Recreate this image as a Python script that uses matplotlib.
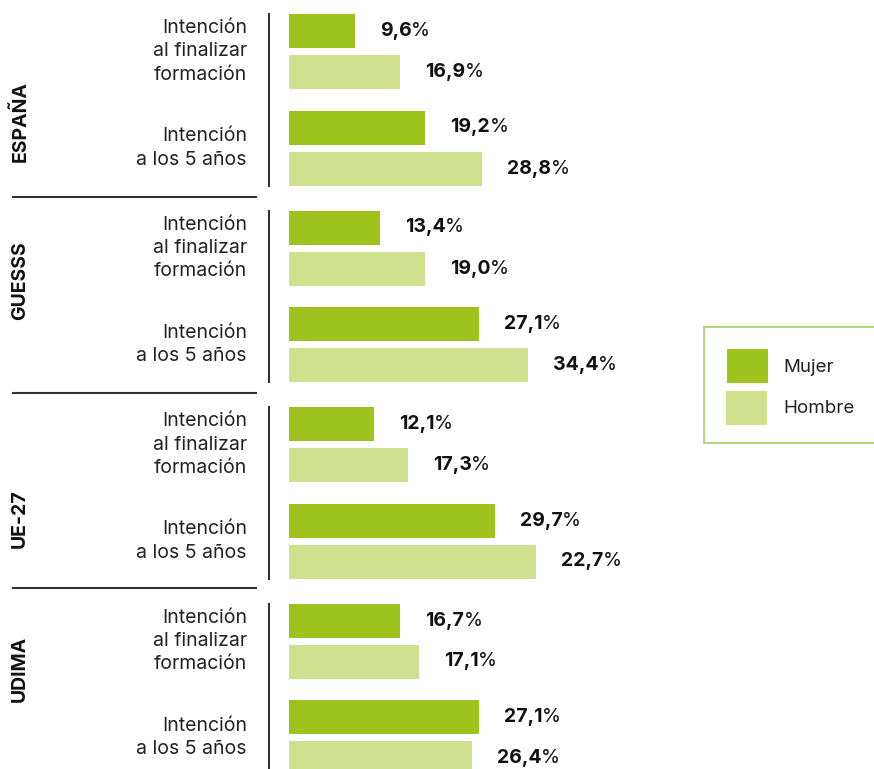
import matplotlib
matplotlib.use("Agg")
import matplotlib.pyplot as plt
from matplotlib.lines import Line2D
from matplotlib.patches import Rectangle

plt.rcParams['font.family'] = ['Inter', 'DejaVu Sans']

# ---------------- data ----------------
groups = ["ESPAÑA", "GUESSS", "UE-27", "UDIMA"]
subcats = ["Intención\nal finalizar\nformación", "Intención\na los 5 años"]
series = ["Mujer", "Hombre"]
# bar lengths as drawn (%), order: group -> subcategory -> [Mujer, Hombre]
mujer_values = [9.5, 19.6, 13.1, 27.3, 12.2, 29.6, 16.0, 27.3]
hombre_values = [16.0, 27.8, 19.6, 34.4, 17.1, 35.5, 18.7, 26.3]
# printed labels
mujer_labels = ["9,6", "19,2", "13,4", "27,1", "12,1", "29,7", "16,7", "27,1"]
hombre_labels = ["16,9", "28,8", "19,0", "34,4", "17,3", "22,7", "17,1", "26,4"]

# ---------------- style / layout ----------------
c_mujer = "#9fc31d"
c_hombre = "#cfe08f"
W, H = 874, 769
fig = plt.figure(figsize=(W / 100, H / 100), dpi=100)
x0 = 289
scale = 6.95  # px per %
ax = fig.add_axes([x0 / W, 0, (W - x0) / W, 1])
ax.set_xlim(0, (W - x0) / scale)
ax.set_ylim(H, 0)
ax.axis("off")

def fx(x):
    return x / W

def fy(y):
    return 1 - y / H

first = 31
g_step = 196.5
s_step = 96.5
k_step = 41
bar_h = 34

group_label_offsets = [22, -16, 26, -20]

for gi, g in enumerate(groups):
    gtop = first + gi * g_step
    for si, sc in enumerate(subcats):
        idx = gi * 2 + si
        ym = gtop + si * s_step
        yh = ym + k_step
        for y, v, lab, col in [(ym, mujer_values[idx], mujer_labels[idx], c_mujer),
                               (yh, hombre_values[idx], hombre_labels[idx], c_hombre)]:
            ax.barh(y, v, height=bar_h, color=col, edgecolor="none")
            t = ax.annotate(lab, xy=(v, y), xytext=(25, 0), textcoords="offset pixels",
                            ha="left", va="center", fontsize=14, fontweight="bold",
                            color="#111111")
            ax.annotate("%", xy=(1, 0.5), xycoords=t, xytext=(-0.5, 0),
                        textcoords="offset pixels", ha="left", va="center",
                        fontsize=14, color="#111111")
        # category label
        fig.text(fx(247), fy((ym + yh) / 2), sc, ha="right", va="center",
                 fontsize=14, color="#222222", linespacing=1.38, multialignment="right")
    gbot = gtop + s_step + k_step
    gcenter = (gtop + gbot) / 2
    # vertical line
    fig.add_artist(Line2D([fx(269), fx(269)], [fy(gtop - 17), fy(min(gbot + 17, H))],
                          color="#333333", lw=1.5))
    # group label
    fig.text(fx(20), fy(gcenter + group_label_offsets[gi]), g, rotation=90,
             ha="center", va="center", fontsize=14, fontweight="bold", color="#111111")
    # separator
    if gi > 0:
        ysep = gtop - 31 + (0 if gi != 3 else -2)
        fig.add_artist(Line2D([fx(13), fx(256)], [fy(ysep), fy(ysep)],
                              color="#333333", lw=1.5))

# legend (drawn manually)
fig.add_artist(Rectangle((fx(704), fy(443)), fx(190), 116 / H, transform=fig.transFigure,
                         facecolor="white", edgecolor="#a8d46a", lw=1.3))
for i, (name, col) in enumerate(zip(series, [c_mujer, c_hombre])):
    ytop = 349 + i * 42
    fig.add_artist(Rectangle((fx(727 - i), fy(ytop + 34)), fx(41), 34 / H,
                             transform=fig.transFigure, facecolor=col, edgecolor="none"))
    fig.text(fx(783), fy(ytop + 18), name, ha="left", va="center",
             fontsize=13.5, color="#222222")

fig.savefig("out.png", dpi=100, facecolor="white")
